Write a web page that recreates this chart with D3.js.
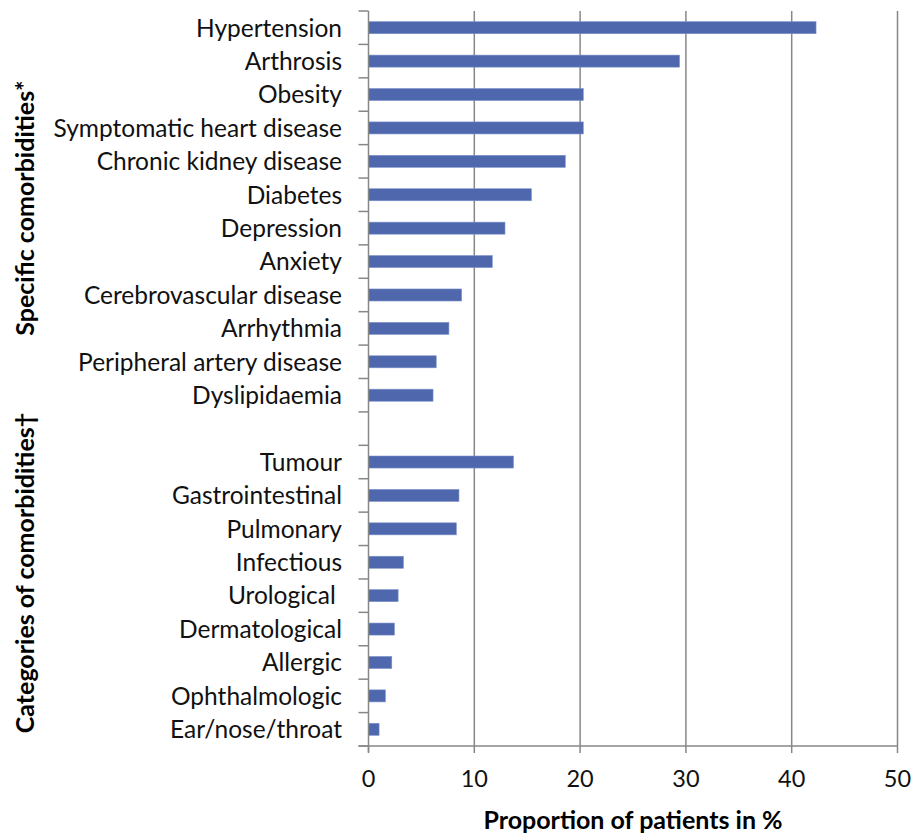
<!DOCTYPE html>
<html>
<head>
<meta charset="utf-8">
<script src="https://cdn.jsdelivr.net/npm/d3@7"></script>
<style>
body { margin: 0; background: #fff; }
svg { display: block; }
</style>
</head>
<body>
<svg id="chart" width="915" height="835"></svg>
<script>
const categories = [
  "Hypertension", "Arthrosis", "Obesity", "Symptomatic heart disease",
  "Chronic kidney disease", "Diabetes", "Depression", "Anxiety",
  "Cerebrovascular disease", "Arrhythmia", "Peripheral artery disease", "Dyslipidaemia",
  "",
  "Tumour", "Gastrointestinal", "Pulmonary", "Infectious", "Urological ",
  "Dermatological", "Allergic", "Ophthalmologic", "Ear/nose/throat"
];
const values = [
  42.3, 29.4, 20.3, 20.3,
  18.6, 15.4, 12.9, 11.7,
  8.8, 7.6, 6.4, 6.1,
  null,
  13.7, 8.55, 8.3, 3.3, 2.8,
  2.45, 2.2, 1.6, 1.0
];
const xTicks = [0, 10, 20, 30, 40, 50];
const xTitle = "Proportion of patients in %";
const groupTitles = ["Specific comorbidities*", "Categories of comorbidities\u2020"];

const svg = d3.select("#chart");
const pLeft = 368.5, pRight = 897.5, pTop = 11, pBottom = 746;
const font = "Lato, 'Open Sans', sans-serif";
const grey = "#878787";

const x = d3.scaleLinear().domain([0, 50]).range([pLeft, pRight]);
const y = d3.scaleBand().domain(categories.map((c, i) => i)).range([pTop, pBottom]).paddingInner(0.64).paddingOuter(0.32);

// gridlines
svg.append("g").selectAll("line").data(xTicks.slice(1)).join("line")
  .attr("x1", d => x(d)).attr("x2", d => x(d))
  .attr("y1", pTop).attr("y2", pBottom)
  .attr("stroke", grey).attr("stroke-width", 1.5);

// bars
const data = categories.map((c, i) => ({ i, c, v: values[i] })).filter(d => d.v != null);
svg.append("g").selectAll("rect").data(data).join("rect")
  .attr("x", x(0))
  .attr("y", d => y(d.i))
  .attr("width", d => x(d.v) - x(0))
  .attr("height", y.bandwidth())
  .attr("fill", "#4e67ad")
  .attr("stroke", "#7d92cb").attr("stroke-width", 0.6);

// y axis
const step = (pBottom - pTop) / categories.length;
const yBounds = d3.range(categories.length + 1).map(k => pTop + k * step);
const ya = svg.append("g");
ya.append("line").attr("x1", pLeft).attr("x2", pLeft).attr("y1", pTop).attr("y2", pBottom + 6)
  .attr("stroke", grey).attr("stroke-width", 1.5);
ya.selectAll("line.t").data(yBounds).join("line").attr("class", "t")
  .attr("x1", pLeft - 10).attr("x2", pLeft).attr("y1", d => d).attr("y2", d => d)
  .attr("stroke", grey).attr("stroke-width", 1.5);
ya.selectAll("text").data(categories.map((c, i) => ({ c, i }))).join("text")
  .attr("x", 342).attr("y", d => y(d.i) + y.bandwidth() / 2)
  .attr("dy", "0.36em").attr("text-anchor", "end")
  .attr("font-family", font).attr("font-size", 24.5).attr("fill", "#111")
  .style("white-space", "pre")
  .text(d => d.c);

// x axis
const xa = svg.append("g");
xa.append("line").attr("x1", pLeft - 10).attr("x2", pRight).attr("y1", pBottom).attr("y2", pBottom)
  .attr("stroke", grey).attr("stroke-width", 1.5);
xa.selectAll("line.t").data(xTicks).join("line").attr("class", "t")
  .attr("x1", d => x(d)).attr("x2", d => x(d)).attr("y1", pBottom).attr("y2", pBottom + 7)
  .attr("stroke", grey).attr("stroke-width", 1.5);
xa.selectAll("text").data(xTicks).join("text")
  .attr("x", d => x(d)).attr("y", 779).attr("dy", "0.36em").attr("text-anchor", "middle")
  .attr("font-family", font).attr("font-size", 23.5).attr("fill", "#111")
  .text(d => d);

svg.append("text").attr("x", 633).attr("y", 820).attr("dy", "0.36em").attr("text-anchor", "middle")
  .attr("font-family", font).attr("font-size", 25).attr("font-weight", "bold").attr("fill", "#000")
  .text(xTitle);

// group titles
const gy = [208, 573];
groupTitles.forEach((t, k) => {
  svg.append("text").attr("transform", `translate(25,${gy[k]}) rotate(-90)`)
    .attr("dy", "0.36em").attr("text-anchor", "middle")
    .attr("font-family", font).attr("font-size", 25).attr("font-weight", "bold").attr("fill", "#000")
    .text(t);
});
</script>
</body>
</html>
